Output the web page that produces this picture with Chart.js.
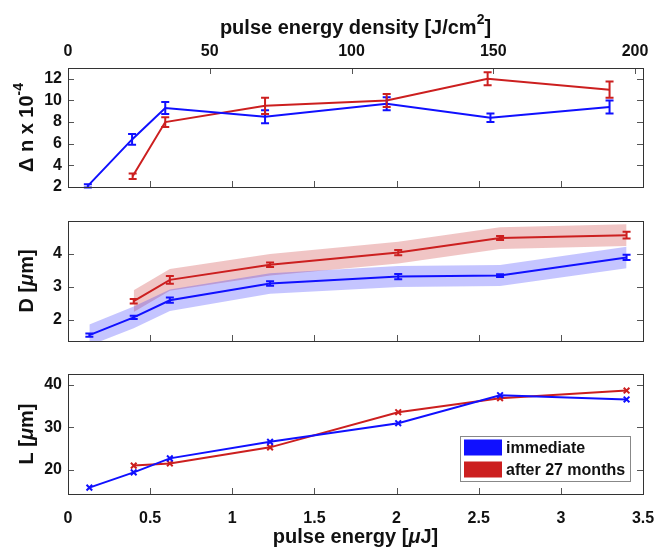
<!DOCTYPE html>
<html>
<head>
<meta charset="utf-8">
<script src="https://cdn.jsdelivr.net/npm/chart.js@4/dist/chart.umd.min.js"></script>
<style>
  body { margin: 0; background: #fff; }
  #wrap { position: relative; width: 656px; height: 550px; }
  canvas { position: absolute; left: 0; }
</style>
</head>
<body>
<div id="wrap">
  <canvas id="c1" width="656" height="195" style="top:0px"></canvas>
  <canvas id="c2" width="656" height="160" style="top:195px"></canvas>
  <canvas id="c3" width="656" height="195" style="top:355px"></canvas>
</div>
<script>
// pulse energy [uJ] of each measurement
const energyImm = [0.13, 0.40, 0.62, 1.23, 2.01, 2.63, 3.40];
const energyAft = [0.40, 0.62, 1.23, 2.01, 2.63, 3.40];
// pulse energy density [J/cm2] (top panel is plotted against this)
const densityImm = [7.0, 22.6, 34.3, 69.5, 112.4, 149.0, 191.0];
const densityAft = [22.8, 34.3, 69.5, 112.4, 148.0, 191.0];

// refractive index change x 1e-4
const dnImm = [2.1, 6.4, 9.3, 8.5, 9.7, 8.4, 9.4];
const dnImmErr = [0.15, 0.5, 0.55, 0.6, 0.6, 0.4, 0.6];
const dnAft = [3.0, 8.0, 9.5, 10.0, 12.0, 11.0];
const dnAftErr = [0.25, 0.45, 0.75, 0.6, 0.6, 0.75];

// diameter D [um]
const dImm = [1.53, 2.07, 2.59, 3.10, 3.31, 3.34, 3.89];
const dImmErr = [0.05, 0.05, 0.08, 0.07, 0.08, 0.04, 0.08];
const dImmBand = [0.32, 0.33, 0.33, 0.31, 0.32, 0.32, 0.33];
const dAft = [2.56, 3.21, 3.67, 4.04, 4.48, 4.57];
const dAftErr = [0.07, 0.12, 0.07, 0.08, 0.06, 0.1];
const dAftBand = [0.33, 0.33, 0.33, 0.33, 0.33, 0.33];

// length L [um]
const lImm = [15.8, 19.4, 22.7, 26.6, 31.0, 37.6, 36.6];
const lAft = [21.0, 21.5, 25.3, 33.6, 36.9, 38.7];

// ticks
const energyTicks = [0, 0.5, 1, 1.5, 2, 2.5, 3, 3.5];
const densityTicks = [0, 50, 100, 150, 200];
const dnTicks = [2, 4, 6, 8, 10, 12];
const dTicks = [2, 3, 4];
const lTicks = [20, 30, 40];

const legendLabels = ['immediate', 'after 27 months'];

// axis titles as [text, style] pieces (style: '', 'i' italic, 's' superscript)
const dnTitle = [['Δ n x 10', ''], ['-4', 's']];
const dTitle = [['D [', ''], ['μ', 'i'], ['m]', '']];
const lTitle = [['L [', ''], ['μ', 'i'], ['m]', '']];
const densityTitle = [['pulse energy density [J/cm', ''], ['2', 's'], [']', '']];
const energyTitle = [['pulse energy [', ''], ['μ', 'i'], ['J]', '']];

const BLUE = '#1010ff';
const RED = '#cc1f1f';
const FONT = '"Liberation Sans", Arial, sans-serif';

const pts = (xs, ys) => xs.map((x, i) => ({ x: x, y: ys[i] }));
const tickList = arr => (scale => { scale.ticks = arr.map(v => ({ value: v })); });

function partFont(style) {
  if (style === 's') return 'bold 14px ' + FONT;
  if (style === 'i') return 'italic bold 20px ' + FONT;
  return 'bold 20px ' + FONT;
}

function drawRich(ctx, parts, cx, cy, rot) {
  ctx.save();
  ctx.translate(cx, cy);
  if (rot) ctx.rotate(rot);
  ctx.textBaseline = 'middle';
  ctx.fillStyle = '#111';
  let total = 0;
  parts.forEach(p => { ctx.font = partFont(p[1]); total += ctx.measureText(p[0]).width; });
  let x = -total / 2;
  parts.forEach(p => {
    ctx.font = partFont(p[1]);
    ctx.fillText(p[0], x, p[1] === 's' ? -8 : 0);
    x += ctx.measureText(p[0]).width;
  });
  ctx.restore();
}

// frame + inward ticks + error bars + axis titles
const framePlugin = {
  id: 'frame',
  afterDatasetsDraw(chart, args, opts) {
    const ctx = chart.ctx;
    const a = chart.chartArea;
    chart.data.datasets.forEach((ds, i) => {
      if (!ds.errors) return;
      const ys = chart.scales.y;
      const meta = chart.getDatasetMeta(i);
      ctx.save();
      ctx.strokeStyle = ds.borderColor;
      ctx.lineWidth = 2;
      meta.data.forEach((p, j) => {
        const v = ds.data[j].y, e = ds.errors[j];
        const t = ys.getPixelForValue(v + e), b = ys.getPixelForValue(v - e);
        ctx.beginPath();
        ctx.moveTo(p.x, t); ctx.lineTo(p.x, b);
        ctx.moveTo(p.x - 4, t); ctx.lineTo(p.x + 4, t);
        ctx.moveTo(p.x - 4, b); ctx.lineTo(p.x + 4, b);
        ctx.stroke();
      });
      ctx.restore();
    });
    ctx.save();
    ctx.strokeStyle = '#555';
    ctx.lineWidth = 1;
    ctx.beginPath();
    chart.scales.y.ticks.forEach(t => {
      const y = Math.round(chart.scales.y.getPixelForValue(t.value)) + 0.5;
      ctx.moveTo(a.left, y); ctx.lineTo(a.left + 6, y);
      ctx.moveTo(a.right, y); ctx.lineTo(a.right - 6, y);
    });
    chart.scales.x.ticks.forEach(t => {
      const x = Math.round(chart.scales.x.getPixelForValue(t.value)) + 0.5;
      ctx.moveTo(x, a.bottom); ctx.lineTo(x, a.bottom - 6);
    });
    if (chart.scales.x2) {
      chart.scales.x2.ticks.forEach(t => {
        const x = Math.round(chart.scales.x2.getPixelForValue(t.value)) + 0.5;
        ctx.moveTo(x, a.top); ctx.lineTo(x, a.top + 6);
      });
    }
    ctx.stroke();
    ctx.strokeStyle = '#333';
    ctx.strokeRect(Math.round(a.left) + 0.5, Math.round(a.top) + 0.5,
      Math.round(a.right - a.left), Math.round(a.bottom - a.top));
    ctx.restore();

    const cx = (a.left + a.right) / 2;
    if (opts.yTitle) drawRich(ctx, opts.yTitle, 27, (a.top + a.bottom) / 2, -Math.PI / 2);
    if (opts.topTitle) drawRich(ctx, opts.topTitle, cx, 28);
    if (opts.bottomTitle) drawRich(ctx, opts.bottomTitle, cx, a.bottom + 43);
  }
};

const legendPlugin = {
  id: 'boxLegend',
  afterDraw(chart) {
    const ctx = chart.ctx;
    const a = chart.chartArea;
    const w = 170, h = 45;
    const x0 = a.right - 13 - w, y0 = a.bottom - 13 - h;
    ctx.save();
    ctx.fillStyle = '#fff';
    ctx.fillRect(x0, y0, w, h);
    ctx.strokeStyle = '#888';
    ctx.lineWidth = 1;
    ctx.strokeRect(x0 + 0.5, y0 + 0.5, w, h);
    ctx.font = 'bold 16px ' + FONT;
    ctx.textBaseline = 'middle';
    [BLUE, RED].forEach((c, i) => {
      const cy = y0 + 11.5 + i * 22;
      ctx.fillStyle = c;
      ctx.fillRect(x0 + 4, cy - 8, 38, 16);
      ctx.fillStyle = '#111';
      ctx.fillText(legendLabels[i], x0 + 46, cy + 1);
    });
    ctx.restore();
  }
};

const tickFont = { family: FONT, size: 16, weight: 'bold' };
const plainNum = v => String(v);

function yAxis(min, max, ticks) {
  return {
    type: 'linear', min: min, max: max,
    afterBuildTicks: tickList(ticks),
    afterFit: s => { s.width = 68; s.paddingTop = 0; s.paddingBottom = 0; },
    grid: { display: false, drawTicks: false },
    border: { display: false },
    ticks: { font: tickFont, color: '#111', padding: 6, callback: plainNum }
  };
}

function hiddenX() {
  return {
    type: 'linear', min: 0, max: 3.5,
    afterBuildTicks: tickList(energyTicks),
    afterFit: s => { s.height = 0; s.paddingLeft = 0; s.paddingRight = 0; },
    grid: { display: false, drawTicks: false },
    border: { display: false },
    ticks: { display: false }
  };
}

function line(data, color, extra) {
  return Object.assign({
    data: data, borderColor: color, backgroundColor: color,
    borderWidth: 2, pointRadius: 0, tension: 0, fill: false
  }, extra || {});
}

function baseOptions(padding, titles) {
  return {
    responsive: false,
    animation: false,
    layout: { padding: padding },
    plugins: { legend: { display: false }, tooltip: { enabled: false }, frame: titles }
  };
}

// panel 1: refractive index change (against pulse energy density)
new Chart(document.getElementById('c1'), {
  type: 'line',
  data: {
    datasets: [
      line(pts(densityImm, dnImm), BLUE, { errors: dnImmErr, xAxisID: 'x2' }),
      line(pts(densityAft, dnAft), RED, { errors: dnAftErr, xAxisID: 'x2' })
    ]
  },
  options: Object.assign(baseOptions({ top: 0, bottom: 8, left: 0, right: 13 }, { yTitle: dnTitle, topTitle: densityTitle }), {
    scales: {
      x: hiddenX(),
      x2: {
        type: 'linear', position: 'top', min: 0, max: 202.8,
        afterBuildTicks: tickList(densityTicks),
        afterFit: s => { s.height = 68; s.paddingLeft = 0; s.paddingRight = 0; },
        grid: { display: false, drawTicks: false },
        border: { display: false },
        ticks: { font: tickFont, color: '#111', padding: 7, maxRotation: 0, callback: plainNum }
      },
      y: yAxis(2, 13, dnTicks)
    }
  }),
  plugins: [framePlugin]
});

// panel 2: diameter
const bandUp = (xs, ys, b) => xs.map((x, i) => ({ x: x, y: ys[i] + b[i] }));
const bandLo = (xs, ys, b) => xs.map((x, i) => ({ x: x, y: ys[i] - b[i] }));
new Chart(document.getElementById('c2'), {
  type: 'line',
  data: {
    datasets: [
      line(pts(energyImm, dImm), BLUE, { errors: dImmErr }),
      line(pts(energyAft, dAft), RED, { errors: dAftErr }),
      line(bandUp(energyImm, dImm, dImmBand), 'rgba(0,0,0,0)', { borderWidth: 0, fill: '+1', backgroundColor: 'rgba(40,40,255,0.27)' }),
      line(bandLo(energyImm, dImm, dImmBand), 'rgba(0,0,0,0)', { borderWidth: 0 }),
      line(bandUp(energyAft, dAft, dAftBand), 'rgba(0,0,0,0)', { borderWidth: 0, fill: '+1', backgroundColor: 'rgba(200,40,40,0.27)' }),
      line(bandLo(energyAft, dAft, dAftBand), 'rgba(0,0,0,0)', { borderWidth: 0 })
    ]
  },
  options: Object.assign(baseOptions({ top: 26, bottom: 14, left: 0, right: 13 }, { yTitle: dTitle }), {
    scales: {
      x: hiddenX(),
      y: yAxis(1.35, 5, dTicks)
    }
  }),
  plugins: [framePlugin]
});

// panel 3: length
new Chart(document.getElementById('c3'), {
  type: 'line',
  data: {
    datasets: [
      line(pts(energyImm, lImm), BLUE, { pointStyle: 'crossRot', pointRadius: 4, pointBorderWidth: 2 }),
      line(pts(energyAft, lAft), RED, { pointStyle: 'crossRot', pointRadius: 4, pointBorderWidth: 2 })
    ]
  },
  options: Object.assign(baseOptions({ top: 19, bottom: 0, left: 0, right: 13 }, { yTitle: lTitle, bottomTitle: energyTitle }), {
    scales: {
      x: {
        type: 'linear', min: 0, max: 3.5,
        afterBuildTicks: tickList(energyTicks),
        afterFit: s => { s.height = 56; s.paddingLeft = 0; s.paddingRight = 0; },
        grid: { display: false, drawTicks: false },
        border: { display: false },
        ticks: { font: tickFont, color: '#111', padding: 15, maxRotation: 0, callback: plainNum }
      },
      y: yAxis(14.3, 42.6, lTicks)
    }
  }),
  plugins: [framePlugin, legendPlugin]
});
</script>
</body>
</html>
